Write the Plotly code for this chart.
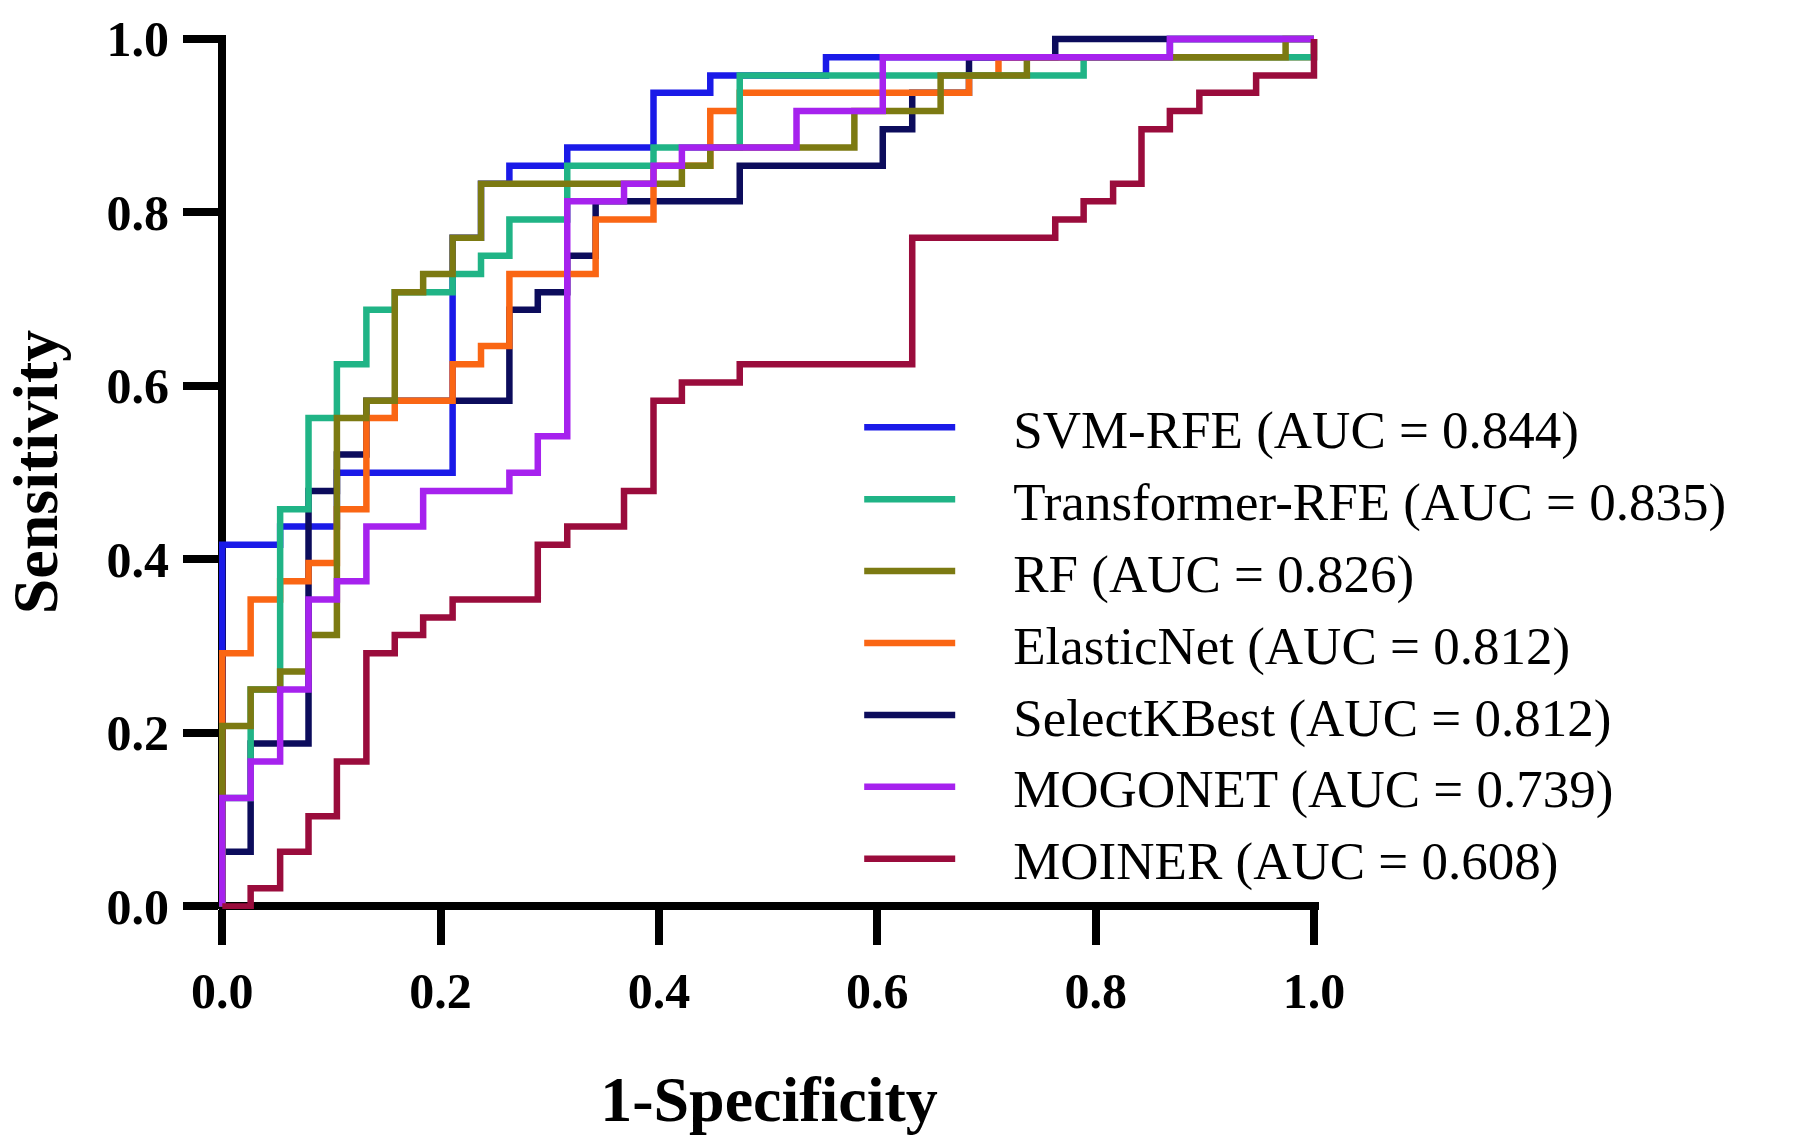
import plotly.graph_objects as go

# ROC corner points (1-Specificity, Sensitivity); step curves drawn with shape 'hv'
svm_x = [0, 0, 0.053, 0.105, 0.211, 0.237, 0.263, 0.316, 0.395, 0.447, 0.553, 0.868, 1]
svm_y = [0, 0.417, 0.438, 0.5, 0.771, 0.833, 0.854, 0.875, 0.938, 0.958, 0.979, 1, 1]

trf_x = [0, 0, 0.026, 0.053, 0.079, 0.105, 0.132, 0.158, 0.211, 0.237, 0.263, 0.316, 0.395, 0.474, 0.789, 1]
trf_y = [0, 0.125, 0.25, 0.458, 0.563, 0.625, 0.688, 0.708, 0.729, 0.75, 0.792, 0.854, 0.875, 0.958, 0.979, 1]

rf_x = [0, 0, 0.026, 0.053, 0.079, 0.105, 0.132, 0.158, 0.184, 0.211, 0.237, 0.421, 0.447, 0.579, 0.658, 0.737, 0.974, 1]
rf_y = [0, 0.208, 0.25, 0.271, 0.313, 0.563, 0.583, 0.708, 0.729, 0.771, 0.833, 0.854, 0.875, 0.917, 0.958, 0.979, 1, 1]

en_x = [0, 0, 0.026, 0.053, 0.079, 0.105, 0.132, 0.158, 0.211, 0.237, 0.263, 0.342, 0.395, 0.447, 0.474, 0.684, 0.711, 1]
en_y = [0, 0.292, 0.354, 0.375, 0.396, 0.458, 0.563, 0.583, 0.625, 0.646, 0.729, 0.792, 0.854, 0.917, 0.938, 0.958, 0.979, 1]

skb_x = [0, 0, 0.026, 0.079, 0.105, 0.132, 0.263, 0.289, 0.316, 0.342, 0.474, 0.605, 0.632, 0.684, 0.763, 1]
skb_y = [0, 0.063, 0.188, 0.479, 0.521, 0.583, 0.688, 0.708, 0.75, 0.813, 0.854, 0.896, 0.938, 0.979, 1, 1]

mog_x = [0, 0, 0.026, 0.053, 0.079, 0.105, 0.132, 0.184, 0.263, 0.289, 0.316, 0.368, 0.395, 0.421, 0.526, 0.605, 0.868, 1]
mog_y = [0, 0.125, 0.167, 0.25, 0.354, 0.375, 0.438, 0.479, 0.5, 0.542, 0.813, 0.833, 0.854, 0.875, 0.917, 0.979, 1, 1]

moi_x = [0, 0.026, 0.053, 0.079, 0.105, 0.132, 0.158, 0.184, 0.211, 0.289, 0.316, 0.368, 0.395, 0.421, 0.474, 0.632, 0.763, 0.789, 0.816, 0.842, 0.868, 0.895, 0.947, 1]
moi_y = [0, 0.021, 0.063, 0.104, 0.167, 0.292, 0.313, 0.333, 0.354, 0.417, 0.438, 0.479, 0.583, 0.604, 0.625, 0.771, 0.792, 0.813, 0.833, 0.896, 0.917, 0.938, 0.958, 1]

names = ["SVM-RFE (AUC = 0.844)", "Transformer-RFE (AUC = 0.835)", "RF (AUC = 0.826)",
         "ElasticNet (AUC = 0.812)", "SelectKBest (AUC = 0.812)", "MOGONET (AUC = 0.739)",
         "MOINER (AUC = 0.608)"]
colors = ["#1a1ae8", "#20b486", "#7c7a12", "#fa6614", "#0c0c5c", "#a622ee", "#9a0c3c"]
xs = [svm_x, trf_x, rf_x, en_x, skb_x, mog_x, moi_x]
ys = [svm_y, trf_y, rf_y, en_y, skb_y, mog_y, moi_y]

# drawing order (bottom -> top) chosen to match overlaps; legend order kept via legendrank
draw_order = [0, 4, 3, 1, 2, 5, 6]
GAP = "\u00a0" * 4  # space between legend line and its label

TXT = "Liberation Serif"
fig = go.Figure()
for i in draw_order:
    fig.add_trace(go.Scatter(
        x=xs[i], y=ys[i], mode="lines", name=GAP + names[i],
        line=dict(color=colors[i], width=6.5, shape="hv"),
        legendrank=i + 1,
    ))

axis_common = dict(
    showgrid=False, showline=False,
    zeroline=True, zerolinecolor="black", zerolinewidth=8,
    ticks="outside", ticklen=35, tickwidth=8, tickcolor="black",
    tickvals=[0, 0.2, 0.4, 0.6, 0.8, 1.0], tickformat=".1f",
    tickfont=dict(family=TXT, size=50, color="black", weight="bold"),
)

fig.update_xaxes(range=[-0.003, 1.0046], ticklabelstandoff=3,
                 title=dict(text="<b>1-Specificity</b>", font=dict(family=TXT, size=64, color="black"),
                            standoff=58),
                 **axis_common)
fig.update_yaxes(range=[-0.0029, 1.0046], ticklabelstandoff=4,
                 title=dict(text="<b>Sensitivity</b>", font=dict(family=TXT, size=64, color="black"),
                            standoff=29),
                 **axis_common)

fig.update_layout(
    width=1796, height=1148,
    margin=dict(l=219, r=477, t=28, b=239),
    plot_bgcolor="white", paper_bgcolor="white",
    showlegend=True,
    legend=dict(x=0.582, y=0.598, xanchor="left", yanchor="top",
                font=dict(family=TXT, size=53, color="black"),
                bgcolor="rgba(0,0,0,0)", itemwidth=91, tracegroupgap=0),
)

fig.write_html("out.html")
